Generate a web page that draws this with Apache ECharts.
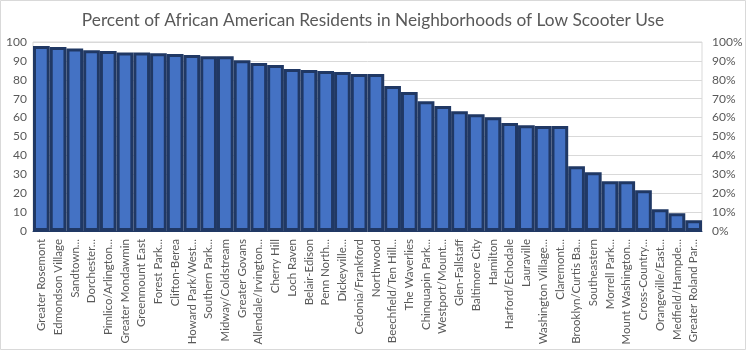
<!DOCTYPE html>
<html><head><meta charset="utf-8">
<script src="https://cdn.jsdelivr.net/npm/echarts@6/dist/echarts.min.js"></script>
<style>html,body{margin:0;padding:0;background:#fff}#c{width:746px;height:350px}</style>
</head><body><div id="c"></div>
<script>
const categories = ["Greater Rosemont","Edmondson Village","Sandtown...","Dorchester...","Pimlico/Arlington...","Greater Mondawmin","Greenmount East","Forest Park...","Clifton-Berea","Howard Park/West...","Southern Park...","Midway/Coldstream","Greater Govans","Allendale/Irvington...","Cherry Hill","Loch Raven","Belair-Edison","Penn North...","Dickeyville...","Cedonia/Frankford","Northwood","Beechfield/Ten Hill...","The Waverlies","Chinquapin Park...","Westport/Mount...","Glen-Fallstaff","Baltimore City","Hamilton","Harford/Echodale","Lauraville","Washington Village...","Claremont...","Brooklyn/Curtis Ba...","Southeastern","Morrell Park...","Mount Washington...","Cross-Country...","Orangeville/East...","Medfield/Hampde...","Greater Roland Par..."];
const values = [97.9,97.3,96.6,95.7,95.2,94.5,94.5,94.1,93.6,93.1,92.5,92.5,90.3,88.9,87.8,85.7,85.2,84.7,84.1,83.1,83.1,76.7,73.5,68.7,66.1,63.4,61.8,60.2,57.1,56.0,55.5,55.5,34.3,31.1,26.3,26.3,21.6,11.5,9.4,5.7];
const leftTicks = [0,10,20,30,40,50,60,70,80,90,100];
const chart = echarts.init(document.getElementById('c'), null, {renderer:'canvas'});
const font = "Lato, 'Open Sans', sans-serif";
chart.setOption({
  animation:false,
  backgroundColor:'#fff',
  title:{text:'Percent of African American Residents in Neighborhoods of Low Scooter Use',left:'center',top:7,
    textStyle:{fontFamily:font,fontSize:17.3,fontWeight:'normal',color:'#595959'}},
  grid:{left:33,right:44,top:42,bottom:119,show:true,borderColor:'#d9d9d9',borderWidth:1},
  xAxis:{type:'category',data:categories,
    axisLine:{lineStyle:{color:'#203864',width:1}},axisTick:{show:false},
    axisLabel:{interval:0,rotate:90,fontFamily:font,fontSize:11.5,color:'#595959',margin:8}},
  yAxis:[
    {type:'value',min:leftTicks[0],max:leftTicks[leftTicks.length-1],interval:10,
     axisLabel:{fontFamily:font,fontSize:12,color:'#595959',margin:6},
     splitLine:{lineStyle:{color:'#d9d9d9'}},axisLine:{show:false},axisTick:{show:false}},
    {type:'value',min:0,max:100,interval:10,position:'right',
     axisLabel:{fontFamily:font,fontSize:12,color:'#595959',margin:10,formatter:v=>v+'%'},
     splitLine:{show:false},axisLine:{show:false},axisTick:{show:false}}
  ],
  series:[{type:'bar',data:values,barCategoryGap:'0%',
    itemStyle:{color:'#4472C4',borderColor:'#203864',borderWidth:3}}],
  graphic:[{type:'rect',shape:{x:0.5,y:0.5,width:745,height:349},style:{fill:'none',stroke:'#d9d9d9',lineWidth:1},silent:true}]
});
</script></body></html>
